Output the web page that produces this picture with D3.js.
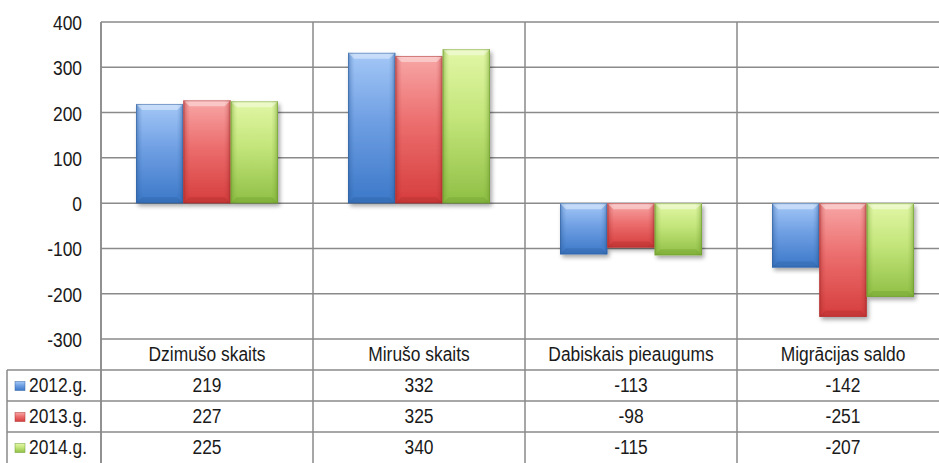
<!DOCTYPE html>
<html>
<head>
<meta charset="utf-8">
<script src="https://cdn.jsdelivr.net/npm/d3@7"></script>
<style>
  html, body { margin: 0; padding: 0; background: #fff; }
  svg { display: block; }
  text { font-family: "Liberation Sans Narrow", "Arial Narrow", "Liberation Sans", Arial, sans-serif; fill: #1a1a1a; }
</style>
</head>
<body>
<svg id="chart" width="939" height="463"></svg>
<script>
const categories = ["Dzimušo skaits", "Mirušo skaits", "Dabiskais pieaugums", "Migrācijas saldo"];
const seriesNames = ["2012.g.", "2013.g.", "2014.g."];
const values2012 = [219, 332, -113, -142];
const values2013 = [227, 325, -98, -251];
const values2014 = [225, 340, -115, -207];
const yTicks = [-300, -200, -100, 0, 100, 200, 300, 400];

const seriesValues = [values2012, values2013, values2014];
const palettes = [
  { top: "#a4c8f7", mid: "#6f9fe3", bot: "#3b78c8", edge: "#2e5f9e" },
  { top: "#f8a6a6", mid: "#ec6e6e", bot: "#d63d3d", edge: "#a82a2a" },
  { top: "#e2f7a6", mid: "#c3e57a", bot: "#8fbf45", edge: "#6b9a2c" }
];

const W = 939, H = 463;
const plotLeft = 101, plotRight = 949, plotTop = 22, plotBottom = 339;
const tableLeft = 7, rowH = 31;
const gridColor = "#8a8a8a";
const fontSize = 20, squeeze = 0.87;

const svg = d3.select("#chart");
const defs = svg.append("defs");

const f = defs.append("filter").attr("id", "shadow").attr("x", "-20%").attr("y", "-20%").attr("width", "150%").attr("height", "150%");
f.append("feDropShadow").attr("dx", 2).attr("dy", 3).attr("stdDeviation", 2).attr("flood-color", "#000").attr("flood-opacity", 0.35);

palettes.forEach((p, i) => {
  const g = defs.append("linearGradient").attr("id", "grad" + i).attr("x1", 0).attr("y1", 0).attr("x2", 0).attr("y2", 1);
  g.append("stop").attr("offset", "0%").attr("stop-color", p.top);
  g.append("stop").attr("offset", "45%").attr("stop-color", p.mid);
  g.append("stop").attr("offset", "100%").attr("stop-color", p.bot);
  const gl = defs.append("linearGradient").attr("id", "side" + i).attr("x1", 0).attr("y1", 0).attr("x2", 1).attr("y2", 0);
  gl.append("stop").attr("offset", "0%").attr("stop-color", p.edge).attr("stop-opacity", 0.55);
  gl.append("stop").attr("offset", "8%").attr("stop-color", p.edge).attr("stop-opacity", 0.15);
  gl.append("stop").attr("offset", "14%").attr("stop-color", p.edge).attr("stop-opacity", 0);
  gl.append("stop").attr("offset", "86%").attr("stop-color", p.edge).attr("stop-opacity", 0);
  gl.append("stop").attr("offset", "92%").attr("stop-color", p.edge).attr("stop-opacity", 0.15);
  gl.append("stop").attr("offset", "100%").attr("stop-color", p.edge).attr("stop-opacity", 0.55);
});

const x = d3.scaleBand().domain(categories).range([plotLeft, plotRight]).paddingInner(0).paddingOuter(0);
const x1 = d3.scaleBand().domain(seriesNames).range([0, x.bandwidth()]).paddingInner(0).paddingOuter(0.74);
const y = d3.scaleLinear().domain([-300, 400]).range([plotBottom, plotTop]);

function label(parent, tx, ty, str, anchor) {
  return parent.append("text")
    .attr("transform", `translate(${tx},${ty}) scale(${squeeze},1)`)
    .attr("text-anchor", anchor || "middle").attr("dominant-baseline", "central")
    .attr("font-size", fontSize).text(str);
}

// gridlines
const grid = svg.append("g");
grid.selectAll("line.h").data(yTicks).join("line")
  .attr("x1", plotLeft).attr("x2", W)
  .attr("y1", d => y(d)).attr("y2", d => y(d))
  .attr("stroke", gridColor).attr("stroke-width", 1.5);
grid.selectAll("line.v").data(categories).join("line")
  .attr("x1", d => x(d)).attr("x2", d => x(d))
  .attr("y1", plotTop).attr("y2", H)
  .attr("stroke", gridColor).attr("stroke-width", 1.5);

// y axis labels (plain hyphen-minus as in the reference)
const yLab = svg.append("g");
yTicks.forEach(t => label(yLab, 82, y(t) + 1, String(t), "end"));

// bars
const barsG = svg.append("g");
seriesNames.forEach((s, si) => {
  const data = categories.map((c, ci) => ({ c, v: seriesValues[si][ci] }));
  const g = barsG.append("g");
  data.forEach(d => {
    const bx = x(d.c) + x1(s), bw = x1.bandwidth();
    const y0 = y(Math.max(0, d.v)), y1v = y(Math.min(0, d.v));
    const bh = y1v - y0;
    const bar = g.append("g");
    bar.append("rect").attr("x", bx).attr("y", y0).attr("width", bw).attr("height", bh)
      .attr("fill", `url(#grad${si})`).attr("filter", "url(#shadow)");
    bar.append("rect").attr("x", bx).attr("y", y0).attr("width", bw).attr("height", bh)
      .attr("fill", `url(#side${si})`);
    const bev = Math.min(6, bh / 3);
    bar.append("polygon")
      .attr("points", [[bx, y0], [bx + bw, y0], [bx + bw - bev, y0 + bev], [bx + bev, y0 + bev]].map(p => p.join(",")).join(" "))
      .attr("fill", "#fff").attr("opacity", 0.4);
    bar.append("polygon")
      .attr("points", [[bx, y1v], [bx + bw, y1v], [bx + bw - bev, y1v - bev], [bx + bev, y1v - bev]].map(p => p.join(",")).join(" "))
      .attr("fill", palettes[si].edge).attr("opacity", 0.35);
    bar.append("rect").attr("x", bx + 0.5).attr("y", y0 + 0.5).attr("width", bw - 1).attr("height", bh - 1)
      .attr("fill", "none").attr("stroke", palettes[si].edge).attr("stroke-opacity", 0.5).attr("stroke-width", 1);
  });
});

// data table
const table = svg.append("g");
const rowTops = [plotBottom, plotBottom + rowH, plotBottom + 2 * rowH, plotBottom + 3 * rowH];
table.selectAll("line.r").data(rowTops.slice(1)).join("line")
  .attr("x1", tableLeft).attr("x2", W)
  .attr("y1", d => d).attr("y2", d => d)
  .attr("stroke", gridColor).attr("stroke-width", 1.5);
table.append("line").attr("x1", tableLeft).attr("x2", tableLeft).attr("y1", rowTops[1]).attr("y2", H)
  .attr("stroke", gridColor).attr("stroke-width", 1.5);
table.append("line").attr("x1", plotLeft).attr("x2", plotLeft).attr("y1", plotTop).attr("y2", H)
  .attr("stroke", gridColor).attr("stroke-width", 1.5);

categories.forEach(c => label(table, x(c) + x.bandwidth() / 2, rowTops[0] + rowH / 2, c));

seriesNames.forEach((s, si) => {
  const cy = rowTops[si + 1] + rowH / 2;
  table.append("rect").attr("x", 15).attr("y", cy - 4).attr("width", 10).attr("height", 9)
    .attr("fill", `url(#grad${si})`).attr("stroke", palettes[si].edge).attr("stroke-opacity", 0.6).attr("stroke-width", 0.8);
  label(table, 29, cy, s, "start");
  categories.forEach((c, ci) => label(table, x(c) + x.bandwidth() / 2, cy, String(seriesValues[si][ci])));
});
</script>
</body>
</html>
